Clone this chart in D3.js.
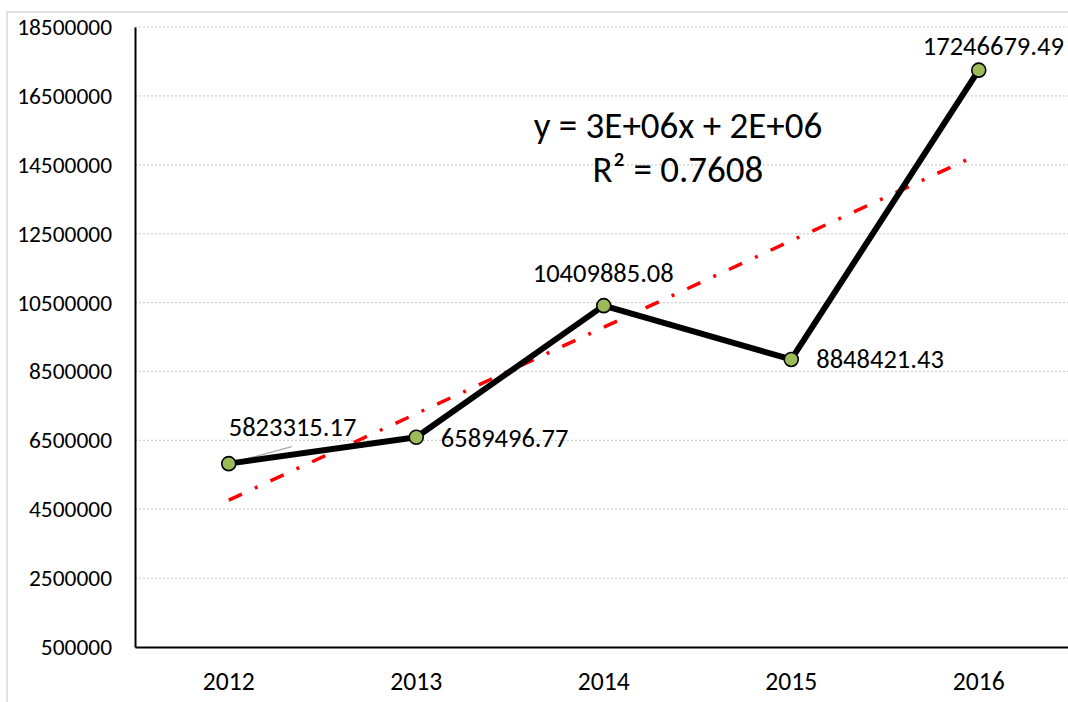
<!DOCTYPE html>
<html>
<head>
<meta charset="utf-8">
<script src="https://cdn.jsdelivr.net/npm/d3@7"></script>
<style>
  html, body { margin: 0; padding: 0; background: #fff; }
  svg { display: block; }
  text { font-family: Carlito, Lato, "Liberation Sans", sans-serif; fill: #000; }
</style>
</head>
<body>
<svg id="chart" width="1068" height="702"></svg>
<script>
const years = ["2012", "2013", "2014", "2015", "2016"];
const values = [5823315.17, 6589496.77, 10409885.08, 8848421.43, 17246679.49];
const yTicks = [500000, 2500000, 4500000, 6500000, 8500000, 10500000, 12500000, 14500000, 16500000, 18500000];
const valueLabels = ["5823315.17", "6589496.77", "10409885.08", "8848421.43", "17246679.49"];
const equationLines = ["y = 3E+06x + 2E+06", "R\u00b2 = 0.7608"];

const svg = d3.select("#chart");
const W = 1068, H = 702;
const margin = { left: 135, top: 27 };
const plotRight = 1072.5;
const plotBottom = 647;

// chart border
svg.append("rect")
  .attr("x", 7).attr("y", 12)
  .attr("width", 1100).attr("height", 800)
  .attr("fill", "none").attr("stroke", "#d9d9d9").attr("stroke-width", 1.5);

const x = d3.scaleBand().domain(years).range([margin.left, plotRight]).padding(0);
const y = d3.scaleLinear().domain([500000, 18500000]).range([plotBottom, margin.top]);
const cx = d => x(d) + x.bandwidth() / 2;

// gridlines
svg.append("g").selectAll("line").data(yTicks.slice(1)).join("line")
  .attr("x1", margin.left).attr("x2", W)
  .attr("y1", d => y(d)).attr("y2", d => y(d))
  .attr("stroke", "#cfcfcf").attr("stroke-width", 1.2)
  .attr("stroke-dasharray", "2,2");

// y axis
const yAxis = d3.axisLeft(y).tickValues(yTicks).tickSize(0).tickPadding(23).tickFormat(d3.format("d"));
const gy = svg.append("g").attr("transform", `translate(${margin.left},0)`).call(yAxis);
gy.select(".domain").attr("stroke", "#000").attr("stroke-width", 2);
gy.selectAll("text").style("font-size", "23.4px").attr("dy", "0.32em");

// x axis
const xAxis = d3.axisBottom(x).tickSize(0).tickPadding(25);
const gx = svg.append("g").attr("transform", `translate(0,${plotBottom})`).call(xAxis);
gx.select(".domain").attr("stroke", "#000").attr("stroke-width", 2);
gx.selectAll("text").style("font-size", "25.6px");

// linear trend (least squares on x = 1..n)
const n = values.length;
const xs = values.map((_, i) => i + 1);
const mx = d3.mean(xs), my = d3.mean(values);
const slope = d3.sum(xs.map((xi, i) => (xi - mx) * (values[i] - my))) / d3.sum(xs.map(xi => (xi - mx) ** 2));
const intercept = my - slope * mx;
svg.append("line")
  .attr("x1", cx(years[0])).attr("y1", y(intercept + slope * 1))
  .attr("x2", cx(years[n - 1])).attr("y2", y(intercept + slope * n))
  .attr("stroke", "#ff0000").attr("stroke-width", 3.5)
  .attr("stroke-dasharray", "14.5,14.2,3,14.2");

// leader line for first label
svg.append("line")
  .attr("x1", cx(years[0])).attr("y1", y(values[0]))
  .attr("x2", cx(years[0]) + 63).attr("y2", y(values[0]) - 17)
  .attr("stroke", "#a6a6a6").attr("stroke-width", 1.3);

// data line
const line = d3.line().x((d, i) => cx(years[i])).y(d => y(d));
svg.append("path").datum(values)
  .attr("d", line).attr("fill", "none")
  .attr("stroke", "#000").attr("stroke-width", 6).attr("stroke-linejoin", "round");

// markers
svg.append("g").selectAll("circle").data(values).join("circle")
  .attr("cx", (d, i) => cx(years[i])).attr("cy", d => y(d)).attr("r", 7)
  .attr("fill", "#9bbb59").attr("stroke", "#000").attr("stroke-width", 1.6);

// data labels
const labelPos = [
  { dx: 0, dy: -28, anchor: "start" },
  { dx: 24.6, dy: 10, anchor: "start" },
  { dx: -0.5, dy: -23.5, anchor: "middle" },
  { dx: 25, dy: 8.5, anchor: "start" },
  { dx: 14.6, dy: -15, anchor: "middle" }
];
svg.append("g").selectAll("text").data(values).join("text")
  .attr("x", (d, i) => cx(years[i]) + labelPos[i].dx)
  .attr("y", (d, i) => y(d) + labelPos[i].dy)
  .attr("text-anchor", (d, i) => labelPos[i].anchor)
  .style("font-size", "26.5px")
  .text((d, i) => valueLabels[i]);

// equation
svg.append("g").selectAll("text").data(equationLines).join("text")
  .attr("x", 678).attr("y", (d, i) => 138 + i * 44)
  .attr("text-anchor", "middle")
  .style("font-size", "37px")
  .text(d => d);
</script>
</body>
</html>
